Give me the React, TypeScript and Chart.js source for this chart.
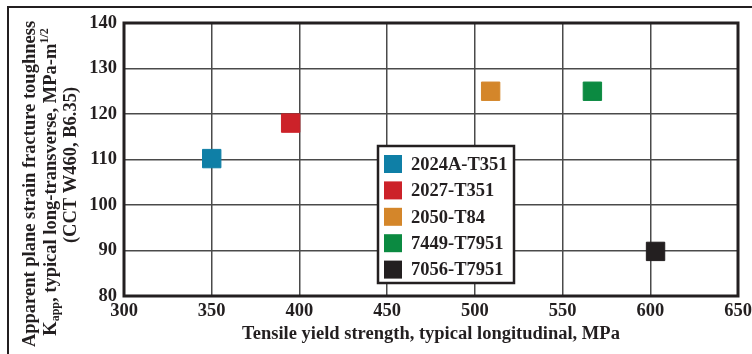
import { useEffect, useRef } from "react";
import { Chart, registerables } from "chart.js";

Chart.register(...registerables);

const alloys = ["2024A-T351", "2027-T351", "2050-T84", "7449-T7951", "7056-T7951"];
const yieldStrength = [350, 395, 509, 567, 603];
const toughness = [110.2, 118, 125, 125, 89.8];
const colors = ["#0f7fa6", "#cc2229", "#d4862a", "#0b8a41", "#231f20"];
const xTickValues = [300, 350, 400, 450, 500, 550, 600, 650];
const yTickValues = [80, 90, 100, 110, 120, 130, 140];
const xTitle = "Tensile yield strength, typical longitudinal, MPa";
const yTitleLines = [
  [{ t: "Apparent plane strain fracture toughness" }],
  [{ t: "K" }, { t: "app", sub: true }, { t: ", typical long-transverse, MPa-m" }, { t: "1/2", sup: true }],
  [{ t: "(CCT W460, B6.35)" }],
];

const INK = "#231f20";
const FAMILY = "'Liberation Serif', 'Times New Roman', serif";
const FONT = `bold 18.5px ${FAMILY}`;
const SMALL = `bold 12px ${FAMILY}`;

const framePlugin = {
  id: "frame",
  beforeDraw(chart: any) {
    const ctx = chart.ctx;
    ctx.save();
    ctx.fillStyle = "#ffffff";
    ctx.fillRect(0, 0, chart.width, chart.height);
    ctx.strokeStyle = INK;
    ctx.lineWidth = 2;
    ctx.beginPath();
    ctx.moveTo(8, chart.height);
    ctx.lineTo(8, 7);
    ctx.lineTo(chart.width, 7);
    ctx.stroke();
    ctx.restore();
  },
  beforeDatasetsDraw(chart: any) {
    const { ctx, chartArea: a } = chart;
    ctx.save();
    ctx.strokeStyle = INK;
    ctx.lineWidth = 3;
    ctx.strokeRect(a.left, a.top, a.right - a.left, a.bottom - a.top);
    ctx.restore();
  },
  afterDraw(chart: any) {
    const { ctx, chartArea: a } = chart;
    ctx.save();
    // x title
    ctx.fillStyle = INK;
    ctx.font = FONT;
    ctx.textAlign = "center";
    ctx.textBaseline = "alphabetic";
    ctx.fillText(xTitle, (a.left + a.right) / 2, 339);

    // y title (rotated, with sub/superscripts)
    const baselines = [35, 56, 76];
    const centers = [184, 182, 165];
    yTitleLines.forEach((segs: any[], i) => {
      let total = 0;
      const widths = segs.map((s) => {
        ctx.font = s.sub || s.sup ? SMALL : FONT;
        const w = ctx.measureText(s.t).width;
        total += w;
        return w;
      });
      ctx.save();
      ctx.translate(baselines[i], centers[i]);
      ctx.rotate(-Math.PI / 2);
      ctx.textAlign = "left";
      let x = -total / 2;
      segs.forEach((s, j) => {
        ctx.font = s.sub || s.sup ? SMALL : FONT;
        const dy = s.sub ? 3 : s.sup ? -8 : 0;
        ctx.fillText(s.t, x, dy);
        x += widths[j];
      });
      ctx.restore();
    });

    // legend
    const bx = 378, by = 146, bw = 136, bh = 137;
    ctx.fillStyle = "#ffffff";
    ctx.fillRect(bx, by, bw, bh);
    ctx.strokeStyle = INK;
    ctx.lineWidth = 2.5;
    ctx.strokeRect(bx, by, bw, bh);
    ctx.font = FONT;
    ctx.textAlign = "left";
    ctx.textBaseline = "middle";
    chart.data.datasets.forEach((ds: any, i: number) => {
      const cy = 164 + i * 26.4;
      ctx.fillStyle = ds.backgroundColor;
      ctx.fillRect(384, cy - 9, 18, 18);
      ctx.fillStyle = INK;
      ctx.fillText(ds.label, 411, cy + 1);
    });
    ctx.restore();
  },
};

export default function App() {
  const ref = useRef<HTMLCanvasElement>(null);
  useEffect(() => {
    document.body.style.margin = "0";
    const canvas = ref.current!;
    const chart = new Chart(canvas, {
      type: "scatter",
      data: {
        datasets: alloys.map((name, i) => ({
          label: name,
          data: [{ x: yieldStrength[i], y: toughness[i] }],
          backgroundColor: colors[i],
          borderColor: colors[i],
          borderWidth: 1,
          pointStyle: "rect",
          pointRadius: 13,
          pointHoverRadius: 13,
        })),
      },
      options: {
        responsive: false,
        animation: false,
        devicePixelRatio: 1,
        layout: { padding: { left: 0, top: 23, right: 13, bottom: 0 } },
        plugins: { legend: { display: false }, tooltip: { enabled: false } },
        scales: {
          x: {
            type: "linear",
            min: 300,
            max: 650,
            afterBuildTicks: (s: any) => {
              s.ticks = xTickValues.map((v) => ({ value: v }));
            },
            afterFit: (s: any) => {
              s.height = 58;
              s.paddingLeft = 0;
              s.paddingRight = 0;
            },
            border: { display: false },
            grid: {
              drawTicks: false,
              lineWidth: 1.5,
              color: (c: any) =>
                c.tick && (c.tick.value === 300 || c.tick.value === 650) ? "rgba(0,0,0,0)" : "#4a4a4a",
            },
            ticks: { color: INK, font: { family: FAMILY, size: 18.5, weight: "bold" }, padding: 4, maxRotation: 0 },
          },
          y: {
            type: "linear",
            min: 80,
            max: 140,
            afterBuildTicks: (s: any) => {
              s.ticks = yTickValues.map((v) => ({ value: v }));
            },
            afterFit: (s: any) => {
              s.width = 124;
              s.paddingTop = 0;
              s.paddingBottom = 0;
            },
            border: { display: false },
            grid: {
              drawTicks: false,
              lineWidth: 1.5,
              color: (c: any) =>
                c.tick && (c.tick.value === 80 || c.tick.value === 140) ? "rgba(0,0,0,0)" : "#4a4a4a",
            },
            ticks: { color: INK, font: { family: FAMILY, size: 18.5, weight: "bold" }, padding: 7 },
          },
        },
      },
      plugins: [framePlugin],
    });
    return () => chart.destroy();
  }, []);
  return (
    <div style={{ position: "fixed", left: 0, top: 0, width: 752, height: 354 }}>
      <canvas ref={ref} width={752} height={354} style={{ display: "block" }} />
    </div>
  );
}
